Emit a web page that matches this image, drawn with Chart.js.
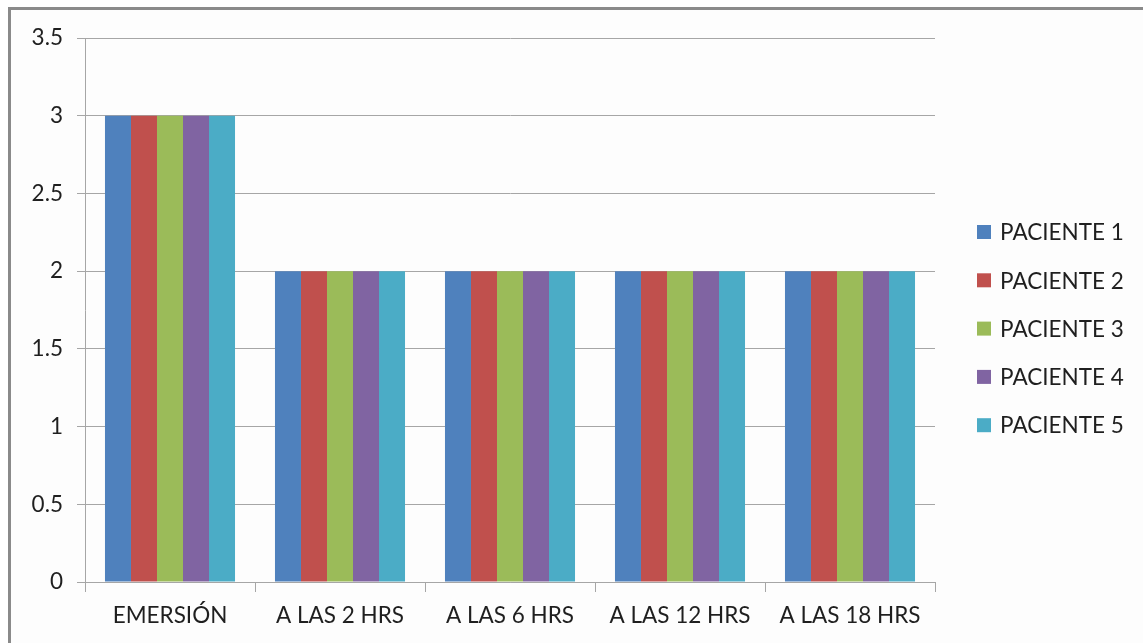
<!DOCTYPE html>
<html>
<head>
<meta charset="utf-8">
<script src="https://cdn.jsdelivr.net/npm/chart.js@4/dist/chart.umd.min.js"></script>
<style>
  html, body { margin: 0; padding: 0; background: #ffffff; }
  #wrap { width: 1143px; height: 643px; position: relative; }
</style>
</head>
<body>
<div id="wrap"><canvas id="c" width="1143" height="643"></canvas></div>
<script>
const categories = ['EMERSIÓN', 'A LAS 2 HRS', 'A LAS 6 HRS', 'A LAS 12 HRS', 'A LAS 18 HRS'];
const seriesNames = ['PACIENTE 1', 'PACIENTE 2', 'PACIENTE 3', 'PACIENTE 4', 'PACIENTE 5'];
const paciente1 = [3, 2, 2, 2, 2];
const paciente2 = [3, 2, 2, 2, 2];
const paciente3 = [3, 2, 2, 2, 2];
const paciente4 = [3, 2, 2, 2, 2];
const paciente5 = [3, 2, 2, 2, 2];
const seriesColors = ['#4F81BD', '#C0504D', '#9BBB59', '#8064A2', '#4BACC6'];

const FONT = 'Lato, "Open Sans", sans-serif';
const TEXT = '#1f1f1f';
const GRID = '#a6a6a6';
const FONT_SIZE = 22.5;

const allSeries = [paciente1, paciente2, paciente3, paciente4, paciente5];
const datasets = allSeries.map((vals, i) => ({
  label: seriesNames[i],
  data: vals,
  backgroundColor: seriesColors[i],
  borderWidth: 0,
  categoryPercentage: 0.765,
  barPercentage: 1.0
}));

// Frame around the whole figure and a plain background
const framePlugin = {
  id: 'frame',
  beforeDraw(chart) {
    const ctx = chart.ctx;
    ctx.save();
    ctx.fillStyle = '#ffffff';
    ctx.fillRect(0, 0, chart.width, chart.height);
    ctx.fillStyle = '#fdfdfd';
    ctx.fillRect(10, 9, chart.width, chart.height);
    ctx.strokeStyle = '#8a8a8a';
    ctx.lineWidth = 3;
    ctx.beginPath();
    ctx.moveTo(9.5, chart.height + 5);
    ctx.lineTo(9.5, 8.5);
    ctx.lineTo(chart.width + 5, 8.5);
    ctx.stroke();
    ctx.restore();
  }
};

// Legend on the right: coloured square + series name
const sideLegend = {
  id: 'sideLegend',
  afterDraw(chart) {
    const ctx = chart.ctx;
    ctx.save();
    ctx.font = FONT_SIZE + 'px ' + FONT;
    ctx.textBaseline = 'middle';
    ctx.textAlign = 'left';
    const x0 = 977, size = 14, y0 = 232, step = 48.3;
    chart.data.datasets.forEach((ds, i) => {
      const y = y0 + i * step;
      ctx.fillStyle = ds.backgroundColor;
      ctx.fillRect(x0, y - size / 2, size, size);
      ctx.fillStyle = TEXT;
      ctx.fillText(ds.label, x0 + 23, y + 1);
    });
    ctx.restore();
  }
};

new Chart(document.getElementById('c'), {
  type: 'bar',
  data: { labels: categories, datasets },
  plugins: [framePlugin, sideLegend],
  options: {
    responsive: false,
    animation: false,
    devicePixelRatio: 1,
    layout: { padding: { left: 0, top: 38, right: 208, bottom: 0 } },
    plugins: {
      legend: { display: false },
      tooltip: { enabled: false },
      title: { display: false }
    },
    scales: {
      x: {
        offset: true,
        grid: {
          display: true,
          offset: true,
          drawOnChartArea: false,
          drawTicks: true,
          tickLength: 10,
          color: GRID,
          lineWidth: 1
        },
        border: { display: true, color: GRID, width: 1 },
        ticks: {
          color: TEXT,
          font: { family: FONT, size: FONT_SIZE },
          padding: 10,
          maxRotation: 0,
          autoSkip: false
        },
        afterFit(scale) { scale.height = 61; }
      },
      y: {
        min: 0,
        max: 3.5,
        ticks: {
          stepSize: 0.5,
          color: TEXT,
          font: { family: FONT, size: FONT_SIZE },
          padding: 14,
          callback: v => String(v)
        },
        grid: {
          color: GRID,
          lineWidth: 1,
          drawTicks: true,
          tickLength: 8
        },
        border: { display: true, color: GRID, width: 1 },
        afterFit(scale) { scale.width = 85; }
      }
    }
  }
});
</script>
</body>
</html>
